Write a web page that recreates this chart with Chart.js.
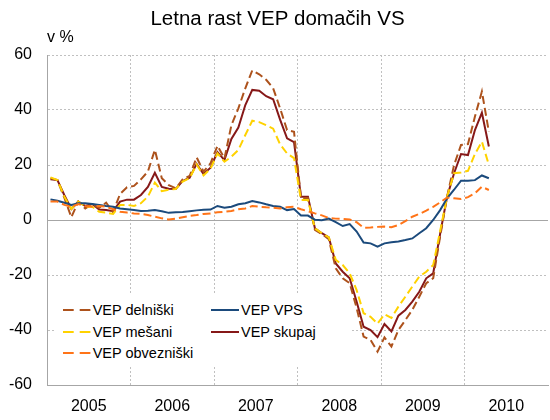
<!DOCTYPE html>
<html>
<head>
<meta charset="utf-8">
<script src="https://cdn.jsdelivr.net/npm/chart.js@4.4.1/dist/chart.umd.min.js"></script>
<style>
  html, body { margin: 0; padding: 0; overflow: hidden; background: #fff; width: 550px; height: 420px; }
  #wrap { position: relative; width: 560px; height: 420px; }
  #legend { position: absolute; left: 55px; top: 293px; width: 295px; height: 72px; background: #fff;
            font-family: "Liberation Sans", Arial, sans-serif; font-size: 14.5px; color: #000; }
  .item { position: absolute; height: 16px; line-height: 16px; white-space: nowrap; }
  .item svg { position: absolute; left: 0; top: 7px; }
  .item span { position: absolute; left: 30px; top: 0; }
</style>
</head>
<body>
<div id="wrap">
  <canvas id="c" width="560" height="420"></canvas>
  <div id="legend"></div>
</div>
<script>
// ---- Data (monthly, Jan 2005 - Apr 2010) ----
const monthNames = ['jan','feb','mar','apr','maj','jun','jul','avg','sep','okt','nov','dec'];
const months = [];
for (let y = 2005; y <= 2010; y++) {
  for (let m = 0; m < 12; m++) {
    if (months.length < 64) months.push(monthNames[m] + ' ' + y);
  }
}
const yearLabels = ['2005', '2006', '2007', '2008', '2009', '2010'];
const yTicks = [-60, -40, -20, 0, 20, 40, 60];

const delniski = [
  15.2, 14.5, 8, 1, 6.7, 4.2, 5.8, 4.4, 6.3, 2.8, 9.5, 11.9,
  12.4, 14.8, 17.6, 25.5, 15.2, 12.7, 11.5, 14.8, 16, 22.8, 17.6, 20.6,
  27, 22.4, 34.5, 40.6, 47.9, 54.4, 53, 51, 47.9, 40.6, 32.7, 32.1,
  8, 8, -3.6, -5.1, -7, -17.6, -21.2, -23, -32, -42.4, -43.6, -47.9,
  -42.7, -46, -40, -36.4, -32.7, -27.9, -23, -21.2, -6, 8.5, 20, 27.3,
  27.6, 37.6, 46.7, 32.1
];
const mesani = [
  15.5, 14.5, 8.5, 4, 6.7, 4.8, 4.8, 3, 2.7, 2.2, 5.5, 5.5,
  5.1, 6.1, 8.5, 13.6, 10.5, 11, 11.3, 14, 15.2, 20.2, 16.2, 18.7,
  24.2, 21.2, 23, 25.5, 30.9, 36.1, 35.6, 34.5, 33.2, 27.5, 24.2, 22.5,
  7.3, 7.3, -3, -4.8, -6.3, -14.5, -16.4, -19.4, -25.5, -33.9, -35.2, -37.7,
  -34.3, -35.6, -31.5, -27.9, -24.2, -20.6, -18.8, -16.4, -4, 8.5, 17, 17.3,
  17.9, 24, 28.5, 20
];
const obvezniski = [
  6.7, 6.7, 5.5, 4.8, 5.8, 5.1, 4.8, 5.1, 4.8, 3.9, 3, 2.7,
  2.4, 2.2, 1.8, 1.2, 0.6, 0.2, 0.5, 1, 1.5, 1.8, 2.2, 2.4,
  2.8, 3, 3.3, 3.9, 4.2, 5.1, 4.8, 4.6, 4.5, 4.2, 4.6, 4.8,
  3.9, 3.2, 2.4, 1.7, 0.7, 0.5, 0.4, 0.2, -0.8, -2.8, -2.7, -2.5,
  -2.4, -2.6, -1.8, -0.4, 1.2, 2.2, 3.4, 4.8, 6.4, 8.2, 7.9, 7.6,
  8.3, 9.7, 12.1, 10.9
];
const vps = [
  7.5, 7, 6.3, 5.5, 6.1, 6.1, 5.8, 5.5, 5.1, 4.8, 4.2, 3.9,
  3.6, 3.3, 3.4, 3.6, 3.2, 2.6, 2.8, 2.9, 3.2, 3.5, 3.7, 3.8,
  5.1, 4.5, 4.8, 5.7, 6.1, 6.9, 6.4, 5.7, 5.1, 4.8, 3.6, 4,
  1.6, 1.6, 0.1, -0.1, 0.5, -0.8, -2.2, -1.5, -4.2, -8.2, -8.5, -9.7,
  -8.5, -8.1, -7.8, -7.3, -6.7, -4.8, -3, 0, 3.6, 7.9, 11, 14.3,
  14.3, 14.5, 16.2, 15.2
];
const skupaj = [
  14.8, 14.5, 9, 4, 6.7, 5.1, 5.8, 3.8, 3.6, 3.2, 6.7, 7.4,
  7.4, 9.1, 12, 17.2, 12, 11.4, 11.3, 14.2, 15.4, 20.4, 16.7, 19,
  24.7, 21.8, 29.5, 33.6, 41.8, 47.3, 47, 45, 43.9, 36.5, 29.7, 28.3,
  8.5, 8.5, -3, -4.8, -6.3, -15.8, -18.8, -21.2, -29.7, -38.8, -40, -42.6,
  -37.8, -40.5, -34.8, -32.7, -29.7, -26.1, -21.2, -19.4, -5, 8.5, 17, 24,
  23.6, 32.7, 39, 26.7
];

// ---- Series definitions ----
const FONT = '"Liberation Sans", Arial, sans-serif';
const series = [
  { key: 'obv', label: 'VEP obvezniški', data: obvezniski, color: '#FF7418', dash: true },
  { key: 'vps', label: 'VEP VPS', data: vps, color: '#1B4A7C', dash: false },
  { key: 'mes', label: 'VEP mešani', data: mesani, color: '#FFD200', dash: true },
  { key: 'del', label: 'VEP delniški', data: delniski, color: '#AD521C', dash: true },
  { key: 'sku', label: 'VEP skupaj', data: skupaj, color: '#861818', dash: false }
];

const toPoints = arr => arr.map((v, i) => ({ x: i + 0.5, y: v, label: months[i] }));

const datasets = series.map(s => ({
  label: s.label,
  data: toPoints(s.data),
  borderColor: s.color,
  backgroundColor: s.color,
  borderWidth: 2,
  borderDash: s.dash ? [8, 4] : [],
  pointRadius: 0,
  tension: 0,
  fill: false
}));

new Chart(document.getElementById('c'), {
  type: 'line',
  data: { datasets },
  options: {
    responsive: false,
    animation: false,
    layout: { padding: { left: 0, right: 5, top: 0, bottom: 0 } },
    plugins: {
      legend: { display: false },
      tooltip: { enabled: false },
      title: {
        display: true,
        text: 'Letna rast VEP domačih VS',
        color: '#000',
        font: { family: FONT, size: 20.5, weight: 'normal', lineHeight: 1 },
        padding: { top: 9.5, bottom: 0 }
      },
      subtitle: {
        display: true,
        text: 'v %',
        align: 'start',
        fullSize: false,
        color: '#000',
        font: { family: FONT, size: 16, weight: 'normal', lineHeight: 1 },
        padding: { top: 0, bottom: 9 }
      }
    },
    scales: {
      x: {
        type: 'linear',
        min: 0,
        max: 72,
        afterBuildTicks: scale => {
          const t = [];
          for (let v = 0; v <= 72; v += 6) t.push({ value: v });
          scale.ticks = t;
        },
        afterFit: scale => { scale.height = 35; },
        ticks: {
          autoSkip: false,
          maxRotation: 0,
          padding: 12,
          color: '#000',
          font: { family: FONT, size: 16 },
          callback: v => (v % 12 === 6 ? yearLabels[(v - 6) / 12] : '')
        },
        grid: {
          drawTicks: false,
          lineWidth: 1,
          color: ctx => (ctx.tick && ctx.tick.value % 12 === 0 && ctx.tick.value > 0 && ctx.tick.value < 72)
            ? '#c0c0c0' : 'rgba(0,0,0,0)'
        },
        border: { display: true, color: '#a6a6a6', width: 1, dash: [2, 2] }
      },
      y: {
        type: 'linear',
        min: -60,
        max: 60,
        afterBuildTicks: scale => { scale.ticks = yTicks.map(v => ({ value: v })); },
        afterFit: scale => { scale.width = 47; },
        ticks: {
          padding: 15,
          color: '#000',
          font: { family: FONT, size: 16 }
        },
        grid: {
          drawTicks: false,
          lineWidth: 1,
          color: ctx => (ctx.tick && (ctx.tick.value === 0 || ctx.tick.value === -60)) ? 'rgba(0,0,0,0)' : '#c0c0c0'
        },
        border: { display: true, color: '#a6a6a6', width: 1, dash: [2, 2] }
      },
      yZero: {
        type: 'linear',
        position: 'left',
        min: -60,
        max: 60,
        afterBuildTicks: scale => { scale.ticks = [{ value: 0 }]; },
        afterFit: scale => { scale.width = 0; },
        ticks: { display: false },
        grid: { drawTicks: false, color: '#a6a6a6', lineWidth: 1 },
        border: { display: false }
      }
    }
  }
});

// ---- HTML legend (Excel-style, two columns) ----
const legendOrder = [
  ['del', 7.7, 17], ['vps', 156, 17],
  ['mes', 7.7, 38.7], ['sku', 156, 38.7],
  ['obv', 7.7, 60.3]
];
const legendEl = document.getElementById('legend');
legendOrder.forEach(([key, lx, cy]) => {
  const s = series.find(q => q.key === key);
  const div = document.createElement('div');
  div.className = 'item';
  div.style.left = lx + 'px';
  div.style.top = (cy - 8) + 'px';
  const dashAttr = s.dash ? ' stroke-dasharray="10.7 6"' : '';
  div.innerHTML = '<svg width="28" height="2"><line x1="0" y1="1" x2="28" y2="1" stroke="' + s.color +
    '" stroke-width="2"' + dashAttr + '/></svg><span>' + s.label + '</span>';
  legendEl.appendChild(div);
});
</script>
</body>
</html>
